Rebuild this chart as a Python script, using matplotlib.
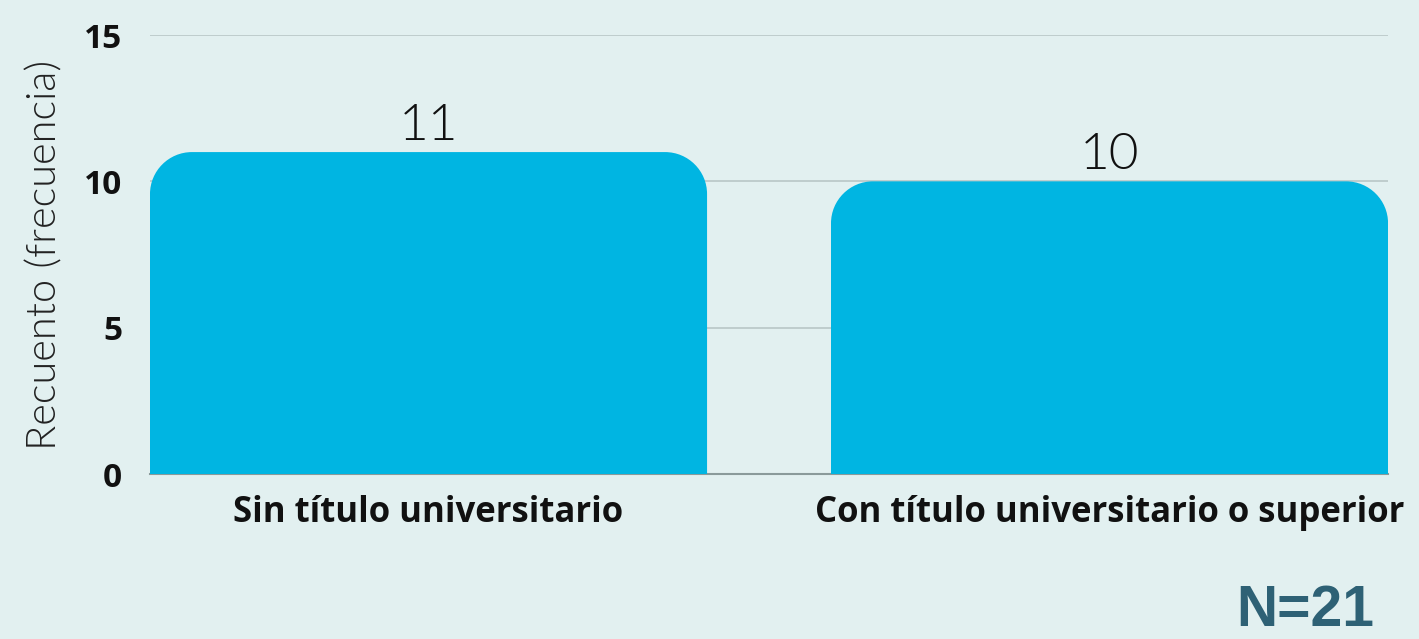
import numpy as np
import matplotlib
matplotlib.use('Agg')
import matplotlib.pyplot as plt
from matplotlib.path import Path
from matplotlib.patches import PathPatch

# Datos
categorias = ['Sin título universitario', 'Con título universitario o superior']
recuento = [11, 10]
ticks_y = [0, 5, 10, 15]
total = 'N=21'

fondo = '#e2f0f0'
azul = '#00b5e2'

fig = plt.figure(figsize=(14.19, 6.39), dpi=100, facecolor=fondo)
ax = fig.add_axes([0.1057, 0.2582, 0.8725, 0.687])
ax.set_facecolor(fondo)

x = np.arange(len(categorias))
ancho = 0.818
ax.set_xlim(-0.409, len(categorias) - 1 + 0.409)
ax.set_ylim(0, 15)

# radio de las esquinas en unidades de datos (aprox 42 px)
fig.canvas.draw()
p0 = ax.transData.transform((0, 0))
p1 = ax.transData.transform((1, 1))
rx = 42 / (p1[0] - p0[0])
ry = 42 / (p1[1] - p0[1])

def barra_redondeada(xc, h):
    x0 = xc - ancho / 2
    x1 = xc + ancho / 2
    k = 0.5523
    verts = [(x0, 0), (x0, h - ry),
             (x0, h - ry + k * ry), (x0 + rx - k * rx, h), (x0 + rx, h),
             (x1 - rx, h),
             (x1 - rx + k * rx, h), (x1, h - ry + k * ry), (x1, h - ry),
             (x1, 0), (x0, 0)]
    codes = [Path.MOVETO, Path.LINETO,
             Path.CURVE4, Path.CURVE4, Path.CURVE4,
             Path.LINETO,
             Path.CURVE4, Path.CURVE4, Path.CURVE4,
             Path.LINETO, Path.CLOSEPOLY]
    return PathPatch(Path(verts, codes), facecolor=azul, edgecolor='none', zorder=3)

for xi, v in zip(x, recuento):
    ax.add_patch(barra_redondeada(xi, v))
    ax.annotate(str(v), (xi, v), xytext=(0, 12), textcoords='offset pixels',
                ha='center', va='baseline', fontsize=37, family='Lato',
                fontweight=300, color='#111111')

# Ejes
ax.set_yticks(ticks_y)
ax.set_yticklabels([str(t) for t in ticks_y], fontsize=24, fontweight='bold',
                   family='Open Sans', color='#111111')
ax.set_xticks(x)
ax.set_xticklabels(categorias, fontsize=25, fontweight='bold',
                   family='Open Sans', color='#111111')
ax.tick_params(axis='both', length=0)
ax.tick_params(axis='y', pad=20)
ax.tick_params(axis='x', pad=15)
ax.yaxis.grid(True, color='#b9c6c6', linewidth=1.2, zorder=0)
ax.set_axisbelow(True)
for s in ['top', 'right', 'left']:
    ax.spines[s].set_visible(False)
ax.spines['bottom'].set_color('#8a9a9a')
ax.spines['bottom'].set_linewidth(1.5)

ax.set_ylabel('Recuento (frecuencia)', fontsize=30, family='Lato',
              fontweight=300, color='#222222', labelpad=15)

fig.text(0.92, 0.002, total, ha='center', va='bottom', fontsize=41,
         fontweight='bold', family='Liberation Sans', color='#2e6175')

fig.savefig('out.png', dpi=100, facecolor=fondo)
